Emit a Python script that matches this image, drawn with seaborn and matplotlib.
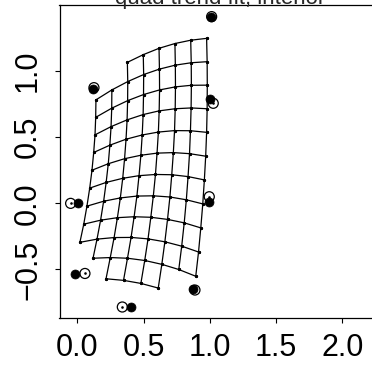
import matplotlib
matplotlib.use("Agg")
import matplotlib.pyplot as plt
import pandas as pd
import seaborn as sns

# Deformed grid: one list per grid column, top to bottom, starting at row col_first_row[c]
col_first_row = [1, 1, 0, 0, 0, 0, 0, 0]
col_x = [
    [0.141, 0.139, 0.134, 0.124, 0.111, 0.094, 0.073, 0.049, 0.020],
    [0.261, 0.260, 0.255, 0.246, 0.234, 0.218, 0.199, 0.176, 0.149, 0.119],
    [0.378, 0.381, 0.380, 0.376, 0.368, 0.357, 0.343, 0.325, 0.303, 0.278, 0.249, 0.217],
    [0.498, 0.501, 0.500, 0.497, 0.490, 0.480, 0.466, 0.450, 0.429, 0.406, 0.379, 0.349],
    [0.617, 0.620, 0.621, 0.618, 0.612, 0.602, 0.590, 0.574, 0.555, 0.534, 0.509, 0.480],
    [0.737, 0.740, 0.741, 0.739, 0.734, 0.725, 0.713, 0.699, 0.681, 0.661, 0.638, 0.611],
    [0.856, 0.860, 0.861, 0.859, 0.854, 0.847, 0.836, 0.823, 0.807, 0.788, 0.766],
    [0.976, 0.980, 0.981, 0.980, 0.976, 0.969, 0.959, 0.947, 0.932, 0.915, 0.894],
]
col_y = [
    [0.780, 0.648, 0.516, 0.383, 0.249, 0.114, -0.022, -0.158, -0.295],
    [0.855, 0.717, 0.578, 0.438, 0.298, 0.157, 0.015, -0.128, -0.271, -0.415],
    [1.063, 0.918, 0.774, 0.629, 0.483, 0.336, 0.188, 0.040, -0.109, -0.259, -0.410, -0.570],
    [1.121, 0.971, 0.820, 0.669, 0.515, 0.362, 0.208, 0.054, -0.102, -0.258, -0.415, -0.582],
    [1.169, 1.012, 0.855, 0.697, 0.537, 0.378, 0.217, 0.056, -0.106, -0.269, -0.432, -0.605],
    [1.205, 1.042, 0.878, 0.713, 0.548, 0.382, 0.215, 0.047, -0.122, -0.291, -0.461, -0.640],
    [1.230, 1.060, 0.890, 0.719, 0.547, 0.374, 0.201, 0.026, -0.148, -0.324, -0.500],
    [1.244, 1.068, 0.891, 0.713, 0.535, 0.355, 0.176, -0.005, -0.186, -0.368, -0.551],
]

# Landmarks: reference configuration (open) and fitted configuration (filled)
open_x = [-0.050, 0.058, 0.340, 0.888, 0.996, 1.026, 0.126, 1.014]
open_y = [-0.001, -0.530, -0.783, -0.655, 0.049, 0.754, 0.872, 1.408]
fill_x = [0.005, -0.017, 0.403, 0.871, 0.996, 1.001, 0.116, 1.007]
fill_y = [-0.001, -0.537, -0.783, -0.650, 0.011, 0.784, 0.862, 1.408]

x_ticks = [0.0, 0.5, 1.0, 1.5, 2.0]
y_ticks = [-0.5, 0.0, 0.5, 1.0]
title = "quad trend fit, interior"

# Long table of grid lines: vertical lines per column, horizontal lines per row
records = []
for c, (r0, xs, ys) in enumerate(zip(col_first_row, col_x, col_y)):
    for i, (x, y) in enumerate(zip(xs, ys)):
        records.append({"x": x, "y": y, "col": c, "row": r0 + i})
nodes = pd.DataFrame(records)
vert = nodes.assign(line=lambda d: "v" + d["col"].astype(str)).sort_values(["col", "row"])
horiz = nodes.assign(line=lambda d: "h" + d["row"].astype(str)).sort_values(["row", "col"])
grid_lines = pd.concat([vert, horiz], ignore_index=True)

sns.set_style("white")
plt.rcParams["font.family"] = ["Liberation Sans", "DejaVu Sans"]
plt.rcParams["axes.unicode_minus"] = True

W, H = 372, 375
fig = plt.figure(figsize=(W / 100, H / 100), dpi=100)
ax = fig.add_axes([59.5 / W, 1 - 318 / H, 321 / W, 313.3 / H])

sns.lineplot(data=grid_lines, x="x", y="y", units="line", estimator=None, sort=False,
             color="black", linewidth=0.9, marker="o", markersize=2.3,
             markeredgewidth=0, ax=ax, legend=False)

sns.scatterplot(x=open_x, y=open_y, s=52, facecolors="none", edgecolor="black",
                linewidth=0.9, ax=ax, zorder=3)
sns.scatterplot(x=open_x, y=open_y, s=3.5, color="black", linewidth=0, ax=ax, zorder=3)
sns.scatterplot(x=fill_x, y=fill_y, s=42, color="black", edgecolor="black",
                linewidth=0.5, ax=ax, zorder=4)

ax.set_xlim(-0.134, 2.288)
ax.set_ylim(-0.866, 1.498)
ax.set_xticks(x_ticks)
ax.set_xticklabels([f"{v:.1f}" for v in x_ticks])
ax.set_yticks(y_ticks)
ax.set_yticklabels([f"{v:.1f}".replace("-", "\u2212") for v in y_ticks])
ax.set_xlabel("")
ax.set_ylabel("")
for s in ax.spines.values():
    s.set_color("black")
    s.set_linewidth(0.9)
ax.tick_params(axis="both", which="major", direction="out", length=3.8, width=0.8,
               color="black", labelsize=22, labelcolor="black", bottom=True, left=True)
ax.tick_params(axis="x", pad=7)
ax.tick_params(axis="y", pad=8)
for lab in ax.get_yticklabels():
    lab.set_rotation(90)
    lab.set_va("center")
    lab.set_ha("right")

fig.text(220 / W, 1 - 4 / H, title, ha="center", va="baseline", fontsize=16)

fig.savefig("out.png", dpi=100)
